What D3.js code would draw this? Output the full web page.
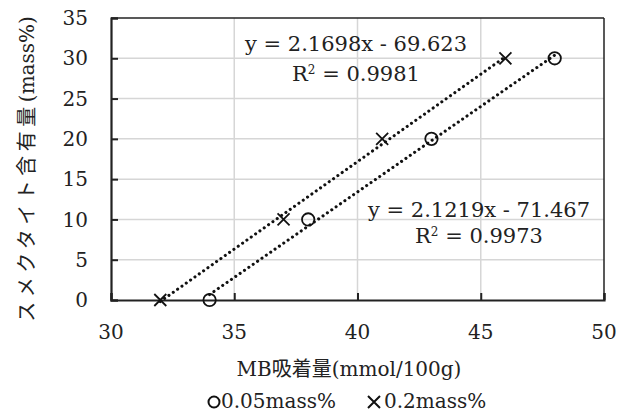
<!DOCTYPE html>
<html><head><meta charset="utf-8">
<script src="https://cdn.jsdelivr.net/npm/d3@7"></script>
<style>
html,body{margin:0;padding:0;background:#fff;}
svg text{font-family:"DejaVu Serif","Liberation Serif","Noto Sans CJK JP",serif;fill:#222;}
</style></head>
<body>
<svg id="chart" width="619" height="412"></svg>
<script>
// Data
const seriesNames = ["0.05mass%", "0.2mass%"];
const mb005 = [34, 38, 43, 48];
const sm005 = [0, 10, 20, 30];
const mb02 = [32, 37, 41, 46];
const sm02 = [0, 10, 20, 30];
const fit005 = {slope: 2.1219, intercept: -71.467, r2: "0.9973", eq: "y = 2.1219x - 71.467"};
const fit02 = {slope: 2.1698, intercept: -69.623, r2: "0.9981", eq: "y = 2.1698x - 69.623"};
const xTicks = [30, 35, 40, 45, 50];
const yTicks = [0, 5, 10, 15, 20, 25, 30, 35];
const xTitle = "MB吸着量(mmol/100g)";
const yTitleJa = "スメクタイト含有量";
const yTitleUnit = "(mass%)";

const svg = d3.select("#chart");
const L = 111, R = 604, T = 18, B = 300;
const x = d3.scaleLinear().domain([30, 50]).range([L, R]);
const y = d3.scaleLinear().domain([0, 35]).range([B, T]);

// gridlines
const g = svg.append("g");
g.selectAll(".vg").data(xTicks.slice(1, -1)).enter().append("line")
  .attr("x1", d => x(d)).attr("x2", d => x(d)).attr("y1", T).attr("y2", B)
  .attr("stroke", "#d6d6d6").attr("stroke-width", 1.5);
g.selectAll(".hg").data(yTicks.slice(1, -1)).enter().append("line")
  .attr("x1", L).attr("x2", R).attr("y1", d => y(d)).attr("y2", d => y(d))
  .attr("stroke", "#d6d6d6").attr("stroke-width", 1.5);

// frame top/right
svg.append("line").attr("x1", L).attr("x2", R).attr("y1", T).attr("y2", T).attr("stroke", "#222").attr("stroke-width", 1.5);
svg.append("line").attr("x1", R).attr("x2", R).attr("y1", T).attr("y2", B).attr("stroke", "#222").attr("stroke-width", 1.5);

// axes
const xAxis = d3.axisBottom(x).tickValues(xTicks).tickSize(-7).tickPadding(0).tickFormat("");
const yAxis = d3.axisLeft(y).tickValues(yTicks).tickSize(-7).tickFormat("");
const xa = svg.append("g").attr("transform", `translate(0,${B})`).call(xAxis);
const ya = svg.append("g").attr("transform", `translate(${L},0)`).call(yAxis);
[xa, ya].forEach(a => {
  a.select(".domain").attr("stroke", "#222").attr("stroke-width", 2.2);
  a.selectAll(".tick line").attr("stroke", "#222").attr("stroke-width", 2);
});

// tick labels
svg.selectAll(".xl").data(xTicks).enter().append("text")
  .attr("x", d => x(d)).attr("y", 339).attr("text-anchor", "middle")
  .attr("font-size", 20).text(d => d);
svg.selectAll(".yl").data(yTicks).enter().append("text")
  .attr("x", 88).attr("y", d => y(d)).attr("dy", "0.36em").attr("text-anchor", "end")
  .attr("font-size", 20).text(d => d);

// trendlines
function trend(xs, f) {
  const x0 = d3.min(xs), x1 = d3.max(xs);
  svg.append("line")
    .attr("x1", x(x0)).attr("y1", y(f.slope * x0 + f.intercept))
    .attr("x2", x(x1)).attr("y2", y(f.slope * x1 + f.intercept))
    .attr("stroke", "#111").attr("stroke-width", 3.1)
    .attr("stroke-linecap", "round").attr("stroke-dasharray", "0.01 5.3");
}
trend(mb005, fit005);
trend(mb02, fit02);

// markers
svg.selectAll(".c").data(d3.zip(mb005, sm005)).enter().append("circle")
  .attr("cx", d => x(d[0])).attr("cy", d => y(d[1])).attr("r", 6.2)
  .attr("fill", "none").attr("stroke", "#111").attr("stroke-width", 1.8);
const cs = 6;
svg.selectAll(".x").data(d3.zip(mb02, sm02)).enter().append("path")
  .attr("d", d => {
    const cx = x(d[0]), cy = y(d[1]);
    return `M${cx - cs},${cy - cs}L${cx + cs},${cy + cs}M${cx - cs},${cy + cs}L${cx + cs},${cy - cs}`;
  })
  .attr("fill", "none").attr("stroke", "#111").attr("stroke-width", 1.8);

// equation labels
function eqLabel(f, cx, y1, y2) {
  svg.append("text").attr("x", cx).attr("y", y1).attr("text-anchor", "middle")
    .attr("font-size", 21).text(f.eq);
  const t = svg.append("text").attr("x", cx).attr("y", y2).attr("text-anchor", "middle").attr("font-size", 21);
  t.append("tspan").text("R");
  t.append("tspan").attr("font-size", 12).attr("dy", -7).text("2");
  t.append("tspan").attr("dy", 7).text(" = " + f.r2);
}
eqLabel(fit02, 356, 51, 81);
eqLabel(fit005, 479, 217, 243);

// axis titles
svg.append("text").attr("x", 349).attr("y", 376).attr("text-anchor", "middle")
  .attr("font-size", 20).text(xTitle);
const yt = svg.append("text").attr("transform", "translate(34,169) rotate(-90)")
  .attr("text-anchor", "middle").attr("font-size", 20);
yt.append("tspan").attr("letter-spacing", 4.5).text(yTitleJa);
yt.append("tspan").text(yTitleUnit);

// legend
const lg = svg.append("g");
lg.append("circle").attr("cx", 214).attr("cy", 402).attr("r", 5.5)
  .attr("fill", "none").attr("stroke", "#111").attr("stroke-width", 2);
lg.append("text").attr("x", 221).attr("y", 408).attr("font-size", 20).text(seriesNames[0]);
lg.append("path").attr("d", `M368,396L380,408M368,408L380,396`)
  .attr("stroke", "#111").attr("stroke-width", 2);
lg.append("text").attr("x", 384).attr("y", 408).attr("font-size", 20).text(seriesNames[1]);
</script>
</body></html>
